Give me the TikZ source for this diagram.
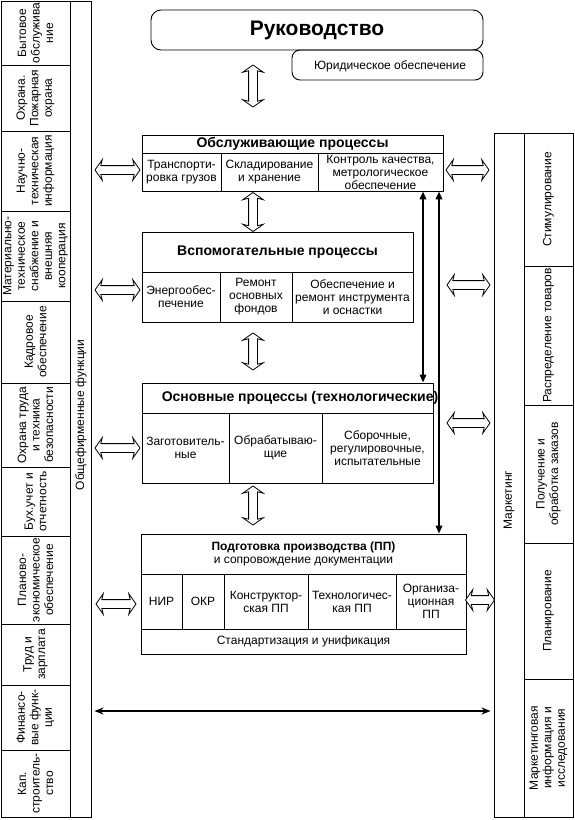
\documentclass[tikz,border=0pt]{standalone}
\usepackage{fontspec}
\setmainfont{Liberation Sans}
\usetikzlibrary{shapes.arrows,arrows.meta,fit}
\newcommand\mkcell[6]{\node[box,fit={(#2,#3) (#4,#5)}] (#1) {};\node[txt] (#1t) at (#1.center) {#6};}
\newcommand\mkrcell[6]{\node[box,fit={(#2,#3) (#4,#5)}] (#1) {};\node[rtxt] (#1t) at (#1.center) {#6};}
\newcommand\ttlf{\fontsize{14}{16}\selectfont\bfseries}
\begin{document}
\begin{tikzpicture}[x=1pt,y=-1pt,
 box/.style={draw,line width=0.9pt,inner sep=0pt},
 txt/.style={align=center,inner sep=0pt,font=\fontsize{12}{13}\selectfont},
 rtxt/.style={align=center,inner sep=0pt,rotate=90,font=\fontsize{12}{13.5}\selectfont},
 hollow/.style={double arrow,draw,fill=white,line width=0.8pt,inner sep=4pt,
   double arrow head extend=6pt,double arrow tip angle=110,double arrow head indent=1.5pt},
 blk/.style={line width=1.8pt,{Triangle[length=8pt,width=6.5pt]}-{Triangle[length=8pt,width=6.5pt]}},
 blkh/.style={line width=1.8pt,shorten <=3pt,shorten >=3pt,{Stealth[length=9pt,width=7pt]}-{Stealth[length=9pt,width=7pt]}}]
\useasboundingbox (0,0) rectangle (575,820);

% left column
\mkrcell{l1}{1}{1}{70}{65}{Бытовое\\обслужива\\ние}
\mkrcell{l2}{1}{65}{70}{131}{Охрана.\\Пожарная\\охрана}
\mkrcell{l3}{1}{131}{70}{211}{Научно-\\техническая\\информация}
\mkrcell{l4}{1}{211}{70}{301}{Материально-\\техническое\\снабжение и\\внешняя\\кооперация}
\mkrcell{l5}{1}{301}{70}{383}{Кадровое\\обеспечение}
\mkrcell{l6}{1}{383}{70}{467}{Охрана труда\\и техника\\безопасности}
\mkrcell{l7}{1}{467}{70}{536}{Бух.учет и\\отчетность}
\mkrcell{l8}{1}{536}{70}{624}{Планово-\\экономическое\\обеспечение}
\mkrcell{l9}{1}{624}{70}{685}{Труд и\\зарплата}
\mkrcell{l10}{1}{685}{70}{750}{Финансо-\\вые функ-\\ции}
\mkrcell{l11}{1}{750}{70}{817}{Кап.\\строитель-\\ство}
\node[box,fit={(70,1) (91,817)}] (gen) {};
\node[rtxt] (gent) at (81,415) {Общефирменные функции};

% right column
\node[box,fit={(494,133) (524,817)}] (mkt) {};
\node[rtxt] (mktt) at (509,500) {Маркетинг};
\mkrcell{r1}{524}{133}{573}{266}{Стимулирование}
\mkrcell{r2}{524}{266}{573}{405}{Распределение товаров}
\mkrcell{r3}{524}{405}{573}{543}{Получение и\\обработка заказов}
\mkrcell{r4}{524}{543}{573}{679}{Планирование}
\mkrcell{r5}{524}{679}{573}{817}{Маркетинговая\\информация и\\исследования}

% top
\node[box,rounded corners=8pt,fit={(292,50) (483,80)}] (yur) {};
\node[txt] (yurt) at (390,66) {Юридическое обеспечение};
\node[box,rounded corners=10pt,fit={(151,10) (483,50)}] (ruk) {};
\node[inner sep=0pt,font=\fontsize{21}{24}\selectfont\bfseries] (rukt) at (ruk.center) {Руководство};

% service processes
\mkcell{o0}{142}{135}{443}{153}{\ttlf Обслуживающие процессы}
\mkcell{o1}{142}{153}{221}{191}{Транспорти-\\ровка грузов}
\mkcell{o2}{221}{153}{318}{191}{Складирование\\и хранение}
\mkcell{o3}{318}{153}{443}{191}{\fontsize{12}{12}\selectfont Контроль качества,\\метрологическое\\обеспечение}

% auxiliary processes
\mkcell{s0}{142}{232}{413}{272}{\ttlf Вспомогательные процессы}
\mkcell{s1}{142}{272}{220}{322}{Энергообес-\\печение}
\mkcell{s2}{220}{272}{292}{322}{Ремонт\\основных\\фондов}
\mkcell{s3}{292}{272}{413}{322}{Обеспечение и\\ремонт инструмента\\и оснастки}

% main processes
\mkcell{m0}{142}{383}{433}{413}{}
\node[inner sep=0pt,font=\ttlf] (m0title) at (300,398) {Основные процессы (технологические)};
\mkcell{m1}{142}{413}{229}{483}{Заготовитель-\\ные}
\mkcell{m2}{229}{413}{322}{483}{Обрабатываю-\\щие}
\mkcell{m3}{322}{413}{433}{483}{Сборочные,\\регулировочные,\\испытательные}

% production preparation
\mkcell{p0}{141}{534}{466}{574}{\fontsize{12}{14}\selectfont\textbf{Подготовка производства (ПП)}\\и сопровождение документации}
\mkcell{p1}{141}{574}{182}{629}{НИР}
\mkcell{p2}{182}{574}{224}{629}{ОКР}
\mkcell{p3}{224}{574}{308}{629}{Конструктор-\\ская ПП}
\mkcell{p4}{308}{574}{396}{629}{Технологичес-\\кая ПП}
\mkcell{p5}{396}{574}{466}{629}{Организа-\\ционная\\ПП}
\mkcell{p6}{141}{629}{466}{654}{Стандартизация и унификация}

% hollow arrows
\node[hollow,rotate=90,minimum height=42pt] (va1) at (253,86) {};
\node[hollow,rotate=90,minimum height=39pt] (va2) at (253,212) {};
\node[hollow,rotate=90,minimum height=37pt] (va3) at (253,351.5) {};
\node[hollow,rotate=90,minimum height=39pt] (va4) at (253,505.5) {};
\node[hollow,minimum height=45pt] (la1) at (117.5,170) {};
\node[hollow,minimum height=45pt] (la2) at (117.5,290) {};
\node[hollow,minimum height=45pt] (la3) at (117.5,448) {};
\node[hollow,minimum height=40pt] (la4) at (116,604) {};
\node[hollow,minimum height=43pt] (ra1) at (467.5,170) {};
\node[hollow,minimum height=43pt] (ra2) at (468.5,285) {};
\node[hollow,minimum height=43pt] (ra3) at (468.5,423) {};
\node[hollow,minimum height=29pt] (ra4) at (480,600) {};

% black arrows
\coordinate (xa) at (423,0);
\coordinate (xb) at (439,0);
\coordinate (yh) at (0,711);
\draw[blk] (o3.south -| xa) -- (m0.north -| xa);
\draw[blk] (o3.south -| xb) -- (p0.north -| xb);
\draw[blkh] (gen.east |- yh) -- (mkt.west |- yh);
\end{tikzpicture}
\end{document}
